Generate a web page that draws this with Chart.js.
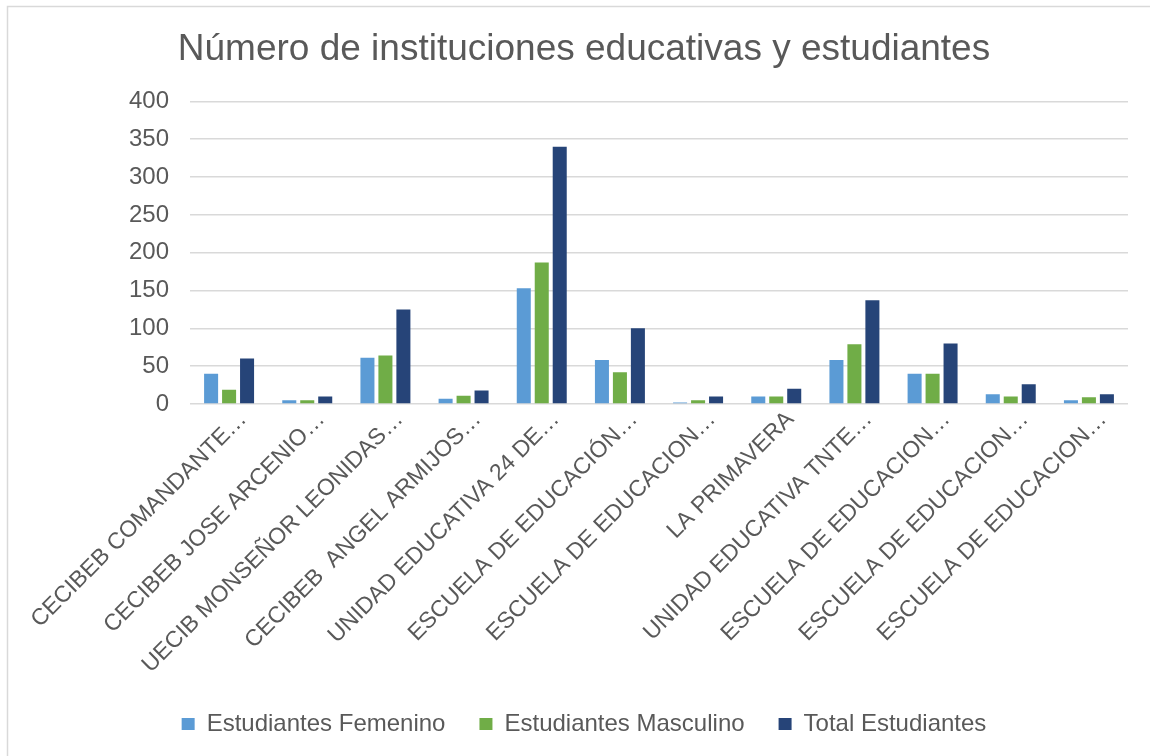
<!DOCTYPE html>
<html>
<head>
<meta charset="utf-8">
<title>Número de instituciones educativas y estudiantes</title>
<script src="https://cdn.jsdelivr.net/npm/chart.js@4/dist/chart.umd.min.js"></script>
<style>
  html, body { margin: 0; padding: 0; background: #ffffff; }
  #wrap { position: relative; width: 1150px; height: 756px; }
</style>
</head>
<body>
<div id="wrap"><canvas id="chart" width="1150" height="756"></canvas></div>
<script>
// Institution names (shortened as shown on the axis)
const institutions = [
  "CECIBEB COMANDANTE…",
  "CECIBEB JOSE ARCENIO…",
  "UECIB MONSEÑOR LEONIDAS…",
  "CECIBEB  ANGEL ARMIJOS…",
  "UNIDAD EDUCATIVA 24 DE…",
  "ESCUELA DE EDUCACIÓN…",
  "ESCUELA DE EDUCACION…",
  "LA PRIMAVERA",
  "UNIDAD EDUCATIVA TNTE…",
  "ESCUELA DE EDUCACION…",
  "ESCUELA DE EDUCACION…",
  "ESCUELA DE EDUCACION…"
];

const seriesNames = ["Estudiantes Femenino", "Estudiantes Masculino", "Total Estudiantes"];

const femenino  = [40, 5, 61, 7, 153, 58, 2, 10, 58, 40, 13, 5];
const masculino = [19, 5, 64, 11, 187, 42, 5, 10, 79, 40, 10, 9];
const total     = [60, 10, 125, 18, 340, 100, 10, 20, 137, 80, 26, 13];

const yTicks = [0, 50, 100, 150, 200, 250, 300, 350, 400];

const TEXT = "#595959";
const GRID = "#d9d9d9";
const FONT = "'Liberation Sans', Arial, sans-serif";

// light frame along the top and left edge of the chart box
const framePlugin = {
  id: "frame",
  beforeDraw(chart) {
    const ctx = chart.ctx;
    ctx.save();
    ctx.fillStyle = "#ffffff";
    ctx.fillRect(0, 0, chart.width, chart.height);
    ctx.strokeStyle = GRID;
    ctx.lineWidth = 1.5;
    ctx.beginPath();
    ctx.moveTo(7.5, chart.height);
    ctx.lineTo(7.5, 6.5);
    ctx.lineTo(chart.width, 6.5);
    ctx.stroke();
    ctx.restore();
  }
};

new Chart(document.getElementById("chart"), {
  type: "bar",
  data: {
    labels: institutions,
    datasets: [
      { label: seriesNames[0], data: femenino,  backgroundColor: "#5b9bd5" },
      { label: seriesNames[1], data: masculino, backgroundColor: "#70ad47" },
      { label: seriesNames[2], data: total,     backgroundColor: "#264478" }
    ]
  },
  options: {
    responsive: false,
    animation: false,
    devicePixelRatio: 1,
    layout: { padding: { left: 40, right: 22, top: 0, bottom: 10 } },
    datasets: { bar: { categoryPercentage: 0.69, barPercentage: 0.78 } },
    plugins: {
      title: {
        display: true,
        text: "Número de instituciones educativas y estudiantes",
        color: TEXT,
        font: { family: FONT, size: 37, weight: "normal", lineHeight: 1.2 },
        padding: { top: 28, bottom: 29 }
      },
      legend: {
        position: "bottom",
        labels: {
          color: TEXT,
          font: { family: FONT, size: 24 },
          boxWidth: 13,
          boxHeight: 12,
          padding: 34
        }
      },
      tooltip: { enabled: false }
    },
    scales: {
      x: {
        grid: { display: false },
        border: { display: false },
        ticks: {
          color: TEXT,
          font: { family: FONT, size: 23 },
          minRotation: 45,
          maxRotation: 45,
          autoSkip: false,
          padding: -6,
          labelOffset: 14
        },
        afterFit(scale) {
          scale.height = 274;
          scale.paddingLeft = 0;
          scale.paddingRight = 0;
          // long rotated names may run past the axis box; draw them unclipped
          scale._computeLabelArea = () => undefined;
        }
      },
      y: {
        min: 0,
        max: 400,
        grid: { color: GRID, lineWidth: 1.5, drawTicks: false },
        border: { display: false },
        afterBuildTicks(scale) {
          scale.ticks = yTicks.map(v => ({ value: v }));
        },
        ticks: {
          color: TEXT,
          font: { family: FONT, size: 24 },
          padding: 21
        },
        afterFit(scale) {
          scale.width = 150;
          scale.paddingTop = 0;
          scale.paddingBottom = 0;
        }
      }
    }
  },
  plugins: [framePlugin]
});
</script>
</body>
</html>
